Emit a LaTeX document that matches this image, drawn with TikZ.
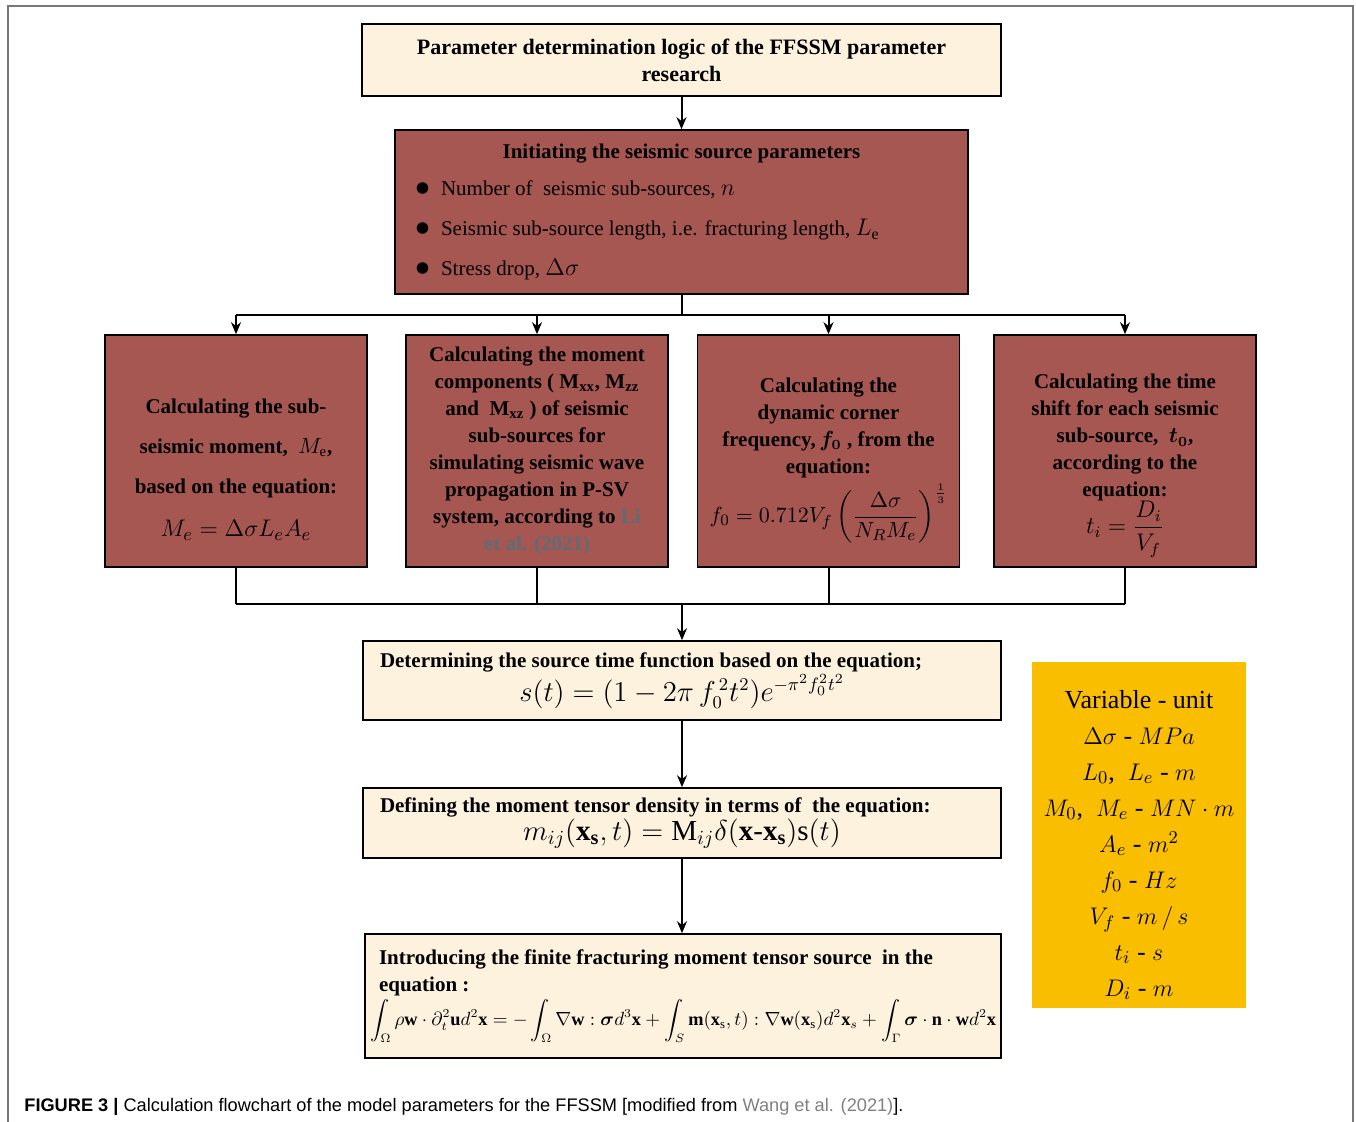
\documentclass[tikz,border=0pt]{standalone}
\usepackage{amsmath}
\usepackage{bm}
\usepackage{graphicx}
\usepackage{fontspec}
\setmainfont{Liberation Serif}
\setsansfont{Liberation Sans}
\usetikzlibrary{arrows.meta, calc}

\definecolor{boxbeige}{RGB}{253,242,222}
\definecolor{boxred}{RGB}{166,87,82}
\definecolor{unityellow}{RGB}{250,190,0}
\definecolor{linkgray}{RGB}{95,108,118}
\definecolor{capgray}{RGB}{128,128,128}
\definecolor{framegray}{RGB}{120,120,120}

\newcommand{\itemdot}{\makebox[13.5pt][l]{\smash{\raisebox{-4.3pt}{\scalebox{2.3}{\textbullet}}}}}

\begin{document}
\begin{tikzpicture}[>={Stealth[length=6pt,width=5pt]}, x=0.5pt, y=-0.5pt,
	beigebox/.style={draw=black, line width=0.8pt, fill=boxbeige, inner sep=0pt},
	redbox/.style={draw=black, line width=0.8pt, fill=boxred, inner sep=0pt},
	subbox/.style={redbox, minimum width=131pt, minimum height=116pt, text width=128pt,
		align=flush center, font=\fontsize{10.5}{13.5}\selectfont\bfseries},
	unitbox/.style={fill=unityellow, inner sep=0pt, minimum width=107pt, minimum height=173pt,
		align=flush center, font=\fontsize{13}{18}\selectfont},
	flow/.style={line width=1pt}]
	% page size and the outer frame
	\useasboundingbox (0,0) rectangle (1356,1122);
	\draw[framegray, line width=0.8pt] (8,1122) -- (8,6) -- (1353,6) -- (1353,1122);
	
	% title box
	\node[beigebox, minimum width=319.5pt, minimum height=36pt, align=flush center,
		font=\fontsize{11}{13.5}\selectfont\bfseries] (top) at (681.5,60)
		{Parameter determination logic of the FFSSM parameter\\research};
	
	% initial source parameters
	\node[redbox, minimum width=286.5pt, minimum height=82pt, text width=267.5pt, align=flush left,
		font=\fontsize{10.5}{20}\selectfont] (init) at (681.5,212)
		{\makebox[\linewidth][c]{\bfseries Initiating the seismic source parameters}\\[-1.5pt]
		\itemdot Number of\ \ seismic sub-sources,\ {\large $n$}\\
		\itemdot Seismic sub-source length, i.e. fracturing length,\ {\large $L_\mathrm{e}$}\\
		\itemdot Stress drop,\ {\large $\Delta\sigma$}};
	
	% four parallel calculations
	\node[subbox] (sub1) at (236,451)
		{\rule{0pt}{26pt}Calculating the sub-\\[6.5pt]
		seismic moment,\ \ $M_\mathrm{e}$,\\[6.5pt]
		based on the equation:\\[8pt]
		{\fontsize{13}{13}\selectfont\mdseries $M_e=\Delta\sigma L_e A_e$}};
	\node[subbox] (sub2) at (537,451)
		{Calculating the moment\\
		components ( M$_{\mathbf{xx}}$, M$_{\mathbf{zz}}$\\
		and\ \ M$_{\mathbf{xz}}$ ) of seismic\\
		sub-sources for\\
		simulating seismic wave\\
		propagation in P-SV\\
		system, according to \textcolor{linkgray}{Li}\\
		\textcolor{linkgray}{et al. (2021)}};
	\node[subbox] (sub3) at (828.5,451)
		{\rule{0pt}{17pt}Calculating the\\
		dynamic corner\\
		frequency,\,$\bm{f_0}$ , from the\\
		equation:\\[2pt]
		{\fontsize{11}{11}\selectfont\mdseries $f_0=0.712V_f\left(\dfrac{\Delta\sigma}{N_RM_e}\right)^{\frac{1}{3}}$}};
	\node[subbox] (sub4) at (1125,451)
		{\rule{0pt}{22pt}Calculating the time\\
		shift for each seismic\\
		sub-source,\ \ $\bm{t_0}$,\\
		according to the\\
		equation:\\[-1pt]
		{\fontsize{12}{12}\selectfont\mdseries $t_i=\dfrac{D_i}{V_f}$}};
	
	% source time function
	\node[beigebox, minimum width=319pt, minimum height=39.5pt, text width=302pt, align=flush center,
		font=\fontsize{10.5}{14}\selectfont] (stf) at (682,680.5)
		{\makebox[\linewidth][l]{\bfseries Determining the source time function based on the equation;}\\
		{\fontsize{13.5}{13}\selectfont $s(t)=(1-2\pi\,f_0^{\,2}t^2)e^{-\pi^2f_0^2t^2}$}};
	
	% moment tensor density
	\node[beigebox, minimum width=319pt, minimum height=35pt, text width=302pt, align=flush center,
		font=\fontsize{10.5}{12.5}\selectfont] (mtd) at (682,823)
		{\makebox[\linewidth][l]{\bfseries Defining the moment tensor density in terms of\ \ the equation:}\\
		{\fontsize{14.5}{13}\selectfont $m_{ij}(\mathbf{x}_\mathbf{s},t)=\mathrm{M}_{ij}\delta(\mathbf{x}\text{-}\mathbf{x}_\mathbf{s})\mathrm{s}(t)$}};
	
	% finite fracturing source
	\node[beigebox, minimum width=318pt, minimum height=62pt, text width=313pt, align=flush center,
		font=\fontsize{10.5}{13.5}\selectfont] (ffm) at (683,996)
		{\makebox[\linewidth][l]{\hspace*{4.5pt}\bfseries Introducing the finite fracturing moment tensor source\ \ in the}\\
		\makebox[\linewidth][l]{\hspace*{4.5pt}\bfseries equation :}\\[1pt]
		\resizebox{313pt}{!}{$\displaystyle\int_\Omega\rho\mathbf{w}\cdot\partial_t^2\mathbf{u}d^2\mathbf{x}=-\int_\Omega\nabla\mathbf{w}:\bm{\sigma}d^3\mathbf{x}+\int_S\mathbf{m}(\mathbf{x}_\mathrm{s},t):\nabla\mathbf{w}(\mathbf{x}_\mathrm{s})d^2\mathbf{x}_s+\int_\Gamma\bm{\sigma}\cdot\mathbf{n}\cdot\mathbf{w}d^2\mathbf{x}$}};
	
	% variables and units
	\node[unitbox] (units) at (1139,835)
		{\rule{0pt}{19pt}Variable - unit\\
		$\Delta\sigma$ - $MPa$\\
		$L_0$,\ \ $L_e$ - $m$\\
		$M_0$,\ \ $M_e$ - $MN\cdot m$\\
		$A_e$ - $m^2$\\
		$f_0$ - $Hz$\\
		$V_f$ - $m\,/\,s$\\
		$t_i$ - $s$\\
		$D_i$ - $m$};
	
	% caption
	\node[anchor=base west, inner sep=0pt, font=\sffamily\fontsize{9.1}{11}\selectfont] (caption) at (24,1111)
		{\textbf{FIGURE 3 |} Calculation flowchart of the model parameters for the FFSSM [modified from \textcolor{capgray}{Wang et al. (2021)}].};
	
	% connectors
	\coordinate (busin) at (681.5,315);
	\coordinate (busout) at (682,604);
	\draw[flow, ->] (top) -- (init);
	\draw[flow] (init.south) -- (busin);
	\draw[flow] (busin -| sub1) -- (busin -| sub4);
	\foreach \s in {sub1,sub2,sub3,sub4}
		\draw[flow, ->] (busin -| \s) -- (\s.north);
	\foreach \s in {sub1,sub2,sub3,sub4}
		\draw[flow] (\s.south) -- (busout -| \s);
	\draw[flow] (busout -| sub1) -- (busout -| sub4);
	\draw[flow, ->] (busout) -- (stf.north);
	\draw[flow, ->] (stf) -- (mtd);
	\draw[flow, ->] (mtd.south) -- (mtd.south |- ffm.north);
\end{tikzpicture}
\end{document}
